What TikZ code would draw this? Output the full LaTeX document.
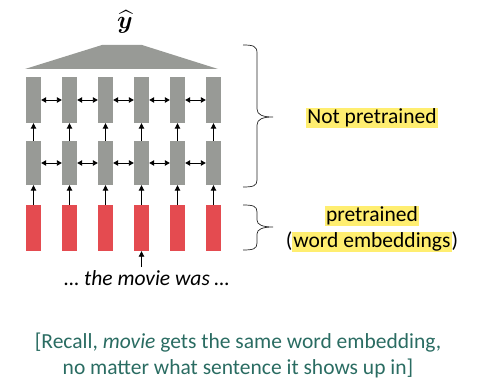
\documentclass[tikz,border=0pt]{standalone}
\usepackage{amsmath}
\usepackage{bm}
\usepackage{fontspec}
\setmainfont{Carlito}
\usetikzlibrary{arrows.meta, positioning}
\definecolor{cellgray}{RGB}{152, 154, 150}
\definecolor{embred}{RGB}{228, 75, 80}
\definecolor{noteteal}{RGB}{42, 108, 98}
\definecolor{hlyellow}{RGB}{255, 238, 112}
\newcommand{\hlmark}[1]{{\setlength{\fboxsep}{1pt}\colorbox{hlyellow}{\vphantom{Ng}#1}}}

\begin{document}
\begin{tikzpicture}[x=1pt, y=-1pt,
    grayblk/.style={fill=cellgray, minimum width=15pt, minimum height=46pt, inner sep=0pt},
    redblk/.style={fill=embred, minimum width=15pt, minimum height=46pt, inner sep=0pt},
    biarrow/.style={line width=0.9pt, {Triangle[length=5pt,width=5.5pt]}-{Triangle[length=5pt,width=5.5pt]}},
    uparrow/.style={line width=0.9pt, -{Triangle[length=5.5pt,width=5.5pt]}},
    bracket/.style={line width=0.7pt, black!85},
    bigtext/.style={font=\fontsize{21.5}{26}\selectfont, align=center, inner sep=0pt}]
        \useasboundingbox (0,0) rectangle (481,387);

        % Drei Reihen von Zellen
        \foreach \i [evaluate=\i as \x using 33.5+36*(\i-1)] in {1,...,6} {
            \node[grayblk] (u\i) at (\x,100) {};
            \node[grayblk, minimum height=44pt] (l\i) at (\x,163) {};
            \node[redblk] (r\i) at (\x,228) {};
        }

        % Verbindungen
        \foreach \i [evaluate=\i as \j using int(\i+1)] in {1,...,5} {
            \draw[biarrow] (u\i) -- (u\j);
            \draw[biarrow] (l\i) -- (l\j);
        }
        \foreach \i in {1,...,6} {
            \draw[uparrow] (l\i) -- (u\i);
            \draw[uparrow] (r\i) -- (l\i);
        }

        % Ausgabe
        \fill[cellgray] (25,69) -- (218,69) -- (142,45) -- (102,45) -- cycle;
        \node[font=\fontsize{29}{32}\selectfont, inner sep=0pt] (yhat) at (125,22) {$\widehat{\bm{y}}$};

        % Eingabe
        \coordinate[below=16pt of r4.south] (word);
        \draw[uparrow] (word) -- (r4);
        \node[bigtext, font=\fontsize{21.5}{26}\selectfont\itshape] (sent) at (147,278) {… the movie was …};

        % Klammern
        \draw[bracket] (243,45) .. controls (253,45) and (257,46) .. (257,53) -- (257,109)
            .. controls (257,115) and (263,117) .. (273,117)
            .. controls (263,117) and (257,119) .. (257,125) -- (257,180)
            .. controls (257,186) and (253,187) .. (243,187);
        \draw[bracket] (243,205) .. controls (253,205) and (257,206) .. (257,212) -- (257,220)
            .. controls (257,225) and (263,227) .. (273,227)
            .. controls (263,227) and (257,229) .. (257,234) -- (257,243)
            .. controls (257,249) and (253,250) .. (243,250);

        \node[bigtext] (notpre) at (372,118) {\hlmark{Not pretrained}};
        \node[bigtext] (pre) at (372,229) {\hlmark{pretrained}\\(\hlmark{word embeddings})};

        % Hinweis
        \node[bigtext, text=noteteal] (note) at (238,355)
            {[Recall, \textit{movie} gets the same word embedding,\\no matter what sentence it shows up in]};
    \end{tikzpicture}
\end{document}
